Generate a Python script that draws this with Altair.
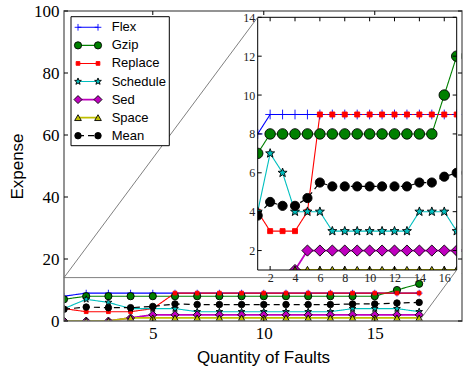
import math
import altair as alt
import pandas as pd

# ---------------- data ----------------
faults = list(range(1, 18))
names = ["Flex", "Gzip", "Replace", "Schedule", "Sed", "Space", "Mean"]
flex = [8, 9, 9, 9, 9, 9, 9, 9, 9, 9, 9, 9, 9, 9, 9, 9, 9]
gzip = [7, 8, 8, 8, 8, 8, 8, 8, 8, 8, 8, 8, 8, 8, 8, 10, 12]
replace = [4, 3, 3, 3, 4, 9, 9, 9, 9, 9, 9, 9, 9, 9, 9, 9, 9]
schedule = [4, 7, 6, 4, 4, 4, 3, 3, 3, 3, 3, 3, 3, 4, 4, 4, 3]
sed = [0, 0, 0, 1, 2, 2, 2, 2, 2, 2, 2, 2, 2, 2, 2, 2, 2]
space = [0, 0, 0, 1, 1, 1, 1, 1, 1, 1, 1, 1, 1, 1, 1, 1, 1]
mean = [3.8, 4.5, 4.3, 4.3, 4.7, 5.5, 5.3, 5.3, 5.3, 5.3, 5.3, 5.3, 5.3, 5.5, 5.5, 5.8, 6.0]
series_values = [flex, gzip, replace, schedule, sed, space, mean]

main_x_ticks = [5, 10, 15]
main_y_ticks = [0, 20, 40, 60, 80, 100]
inset_x_ticks = [2, 4, 6, 8, 10, 12, 14, 16]
inset_y_ticks = [2, 4, 6, 8, 10, 12, 14]

# ---------------- styles ----------------
SERIF = "Liberation Serif"
SANS = "Liberation Sans"
line_colors = ["#0000ff", "#008000", "#ff0000", "#00bfbf", "#bf00bf", "#bfbf00", "#000000"]
fill_colors = ["#0000ff", "#008000", "#ff0000", "#00bfbf", "#bf00bf", "#bfbf00", "#000000"]
edge_colors = ["#0000ff", "#000000", "#ff0000", "#000000", "#000000", "#000000", "#000000"]
line_widths = [1.1, 1.1, 1.1, 1.1, 1.8, 1.8, 1.2]
dashes = [[1, 0]] * 6 + [[6, 4]]
PLUS = "M-1,0L1,0M0,-1L0,1"
_star = []
for k in range(10):
    a = -math.pi / 2 + k * math.pi / 5
    r = 1.0 if k % 2 == 0 else 0.42
    _star.append(f"{r * math.cos(a):.3f},{r * math.sin(a):.3f}")
STAR = "M" + "L".join(_star) + "Z"
shapes = [PLUS, "circle", "square", STAR, "diamond", "triangle-up", "circle"]
main_sizes = [45, 52, 14, 50, 64, 45, 42]
inset_sizes = [95, 110, 25, 90, 125, 70, 85]

# ---------------- layout ----------------
W, H = 398, 310
X_MAIN = [1, 18.93]
Y_MAIN = [0, 100]
X_IN = [1, 17]
Y_IN = [1, 14]
IN_L, IN_R, IN_T, IN_B = 193.7, 392.7, 6.3, 259.0
IN_BG_BOTTOM = 268.0
ZOOM_X = [1, 17]
ZOOM_TOP = 14
TICK = 4

rows = [
    {"series": n, "faults": f, "expense": v}
    for n, vals in zip(names, series_values)
    for f, v in zip(faults, vals)
]
df = pd.DataFrame(rows)
df_in = df[(df.expense >= Y_IN[0]) & (df.expense <= Y_IN[1])]
one = pd.DataFrame({"k": [0]})


def sc(rng):
    return alt.Scale(type="ordinal", domain=names, range=rng)


def px_to_mx(px):
    return X_MAIN[0] + px / W * (X_MAIN[1] - X_MAIN[0])


def py_to_my(py):
    return Y_MAIN[1] - py / H * (Y_MAIN[1] - Y_MAIN[0])


mx = alt.Scale(domain=X_MAIN, nice=False, zero=False)
my = alt.Scale(domain=Y_MAIN, nice=False, zero=False)
ix = alt.Scale(domain=X_IN, range=[IN_L, IN_R], nice=False, zero=False)
iy = alt.Scale(domain=Y_IN, range=[IN_B, IN_T], nice=False, zero=False)

ax_main_x = alt.Axis(values=main_x_ticks, ticks=False, domain=False, grid=False,
                     labelFont=SERIF, labelFontSize=17, labelColor="black", labelPadding=4,
                     title="Quantity of Faults", titleFont=SANS, titleFontSize=17,
                     titleFontWeight="normal", titleColor="black", titlePadding=8)
ax_main_y = alt.Axis(values=main_y_ticks, ticks=False, domain=False, grid=False,
                     labelFont=SERIF, labelFontSize=17, labelColor="black", labelPadding=5,
                     title="Expense", titleFont=SANS, titleFontSize=17,
                     titleFontWeight="normal", titleColor="black", titlePadding=7)
ax_in_x = alt.Axis(orient="bottom", offset=-(H - IN_B), values=inset_x_ticks, ticks=False,
                   domain=False, grid=False, labelFont=SERIF, labelFontSize=12,
                   labelColor="#222222", labelPadding=2, title=None, zindex=1)
ax_in_y = alt.Axis(orient="left", offset=-IN_L, values=inset_y_ticks, ticks=False,
                   domain=False, grid=False, labelFont=SERIF, labelFontSize=12,
                   labelColor="#222222", labelPadding=3, title=None, zindex=1)


def series_layers(data, xs, ys, axx, axy, sizes):
    base = alt.Chart(data)
    lines = base.mark_line(clip=True).encode(
        x=alt.X("faults:Q", scale=xs, axis=axx),
        y=alt.Y("expense:Q", scale=ys, axis=axy),
        color=alt.Color("series:N", scale=sc(line_colors), legend=None),
        strokeDash=alt.StrokeDash("series:N", scale=sc(dashes), legend=None),
        strokeWidth=alt.StrokeWidth("series:N", scale=sc(line_widths), legend=None),
    )
    pts = base.mark_point(filled=True, clip=True, opacity=1, strokeWidth=0.9).encode(
        x=alt.X("faults:Q", scale=xs, axis=axx),
        y=alt.Y("expense:Q", scale=ys, axis=axy),
        fill=alt.Fill("series:N", scale=sc(fill_colors), legend=None),
        stroke=alt.Stroke("series:N", scale=sc(edge_colors), legend=None),
        shape=alt.Shape("series:N", scale=sc(shapes), legend=None),
        size=alt.Size("series:N", scale=sc(sizes), legend=None),
    )
    return lines, pts


# main plot data
m_lines, m_pts = series_layers(df, mx, my, ax_main_x, ax_main_y, main_sizes)
main = alt.layer(m_lines, m_pts)

# inset: background + data
inset_bg = alt.Chart(one).mark_rect(color="white").encode(
    x=alt.value(IN_L), x2=alt.value(IN_R), y=alt.value(IN_T), y2=alt.value(IN_BG_BOTTOM))
i_lines, i_pts = series_layers(df_in, ix, iy, ax_in_x, ax_in_y, inset_sizes)
inset = alt.layer(inset_bg, i_lines, i_pts)

# white strips that clip inset markers at its frame
cover_b = alt.Chart(one).mark_rect(color="white").encode(
    x=alt.value(IN_L - 6), x2=alt.value(W - 0.8), y=alt.value(IN_B), y2=alt.value(IN_BG_BOTTOM))
cover_l = alt.Chart(one).mark_rect(color="white").encode(
    x=alt.value(IN_L - 6), x2=alt.value(IN_L), y=alt.value(IN_T), y2=alt.value(IN_B))
cover_r = alt.Chart(one).mark_rect(color="white").encode(
    x=alt.value(IN_R), x2=alt.value(W - 0.8), y=alt.value(IN_T), y2=alt.value(IN_B))
covers = alt.layer(cover_b, cover_l, cover_r)

# inset frame and inward ticks
in_frame = alt.Chart(one).mark_rect(fillOpacity=0, stroke="black", strokeWidth=1).encode(
    x=alt.value(IN_L), x2=alt.value(IN_R), y=alt.value(IN_T), y2=alt.value(IN_B))
ixt = pd.DataFrame({"t": inset_x_ticks})
iyt = pd.DataFrame({"t": inset_y_ticks})
in_tb = alt.Chart(ixt).mark_rule(color="black", strokeWidth=1).encode(
    x=alt.X("t:Q", scale=ix, axis=None), y=alt.value(IN_B), y2=alt.value(IN_B - TICK))
in_tt = alt.Chart(ixt).mark_rule(color="black", strokeWidth=1).encode(
    x=alt.X("t:Q", scale=ix, axis=None), y=alt.value(IN_T), y2=alt.value(IN_T + TICK))
in_tl = alt.Chart(iyt).mark_rule(color="black", strokeWidth=1).encode(
    y=alt.Y("t:Q", scale=iy, axis=None), x=alt.value(IN_L), x2=alt.value(IN_L + TICK))
in_tr = alt.Chart(iyt).mark_rule(color="black", strokeWidth=1).encode(
    y=alt.Y("t:Q", scale=iy, axis=None), x=alt.value(IN_R), x2=alt.value(IN_R - TICK))
inset_frame = alt.layer(in_frame, in_tb, in_tt, in_tl, in_tr)

# main frame, ticks, zoom indicator and connectors
m_frame = alt.Chart(one).mark_rect(fillOpacity=0, stroke="#707070", strokeWidth=1.5).encode(
    x=alt.value(0), x2=alt.value(W), y=alt.value(0), y2=alt.value(H))
mxt = pd.DataFrame({"t": main_x_ticks})
myt = pd.DataFrame({"t": main_y_ticks})
m_tb = alt.Chart(mxt).mark_rule(color="black", strokeWidth=1).encode(
    x=alt.X("t:Q", scale=mx, axis=None), y=alt.value(H), y2=alt.value(H - TICK))
m_tt = alt.Chart(mxt).mark_rule(color="black", strokeWidth=1).encode(
    x=alt.X("t:Q", scale=mx, axis=None), y=alt.value(0), y2=alt.value(TICK))
m_tl = alt.Chart(myt).mark_rule(color="black", strokeWidth=1).encode(
    y=alt.Y("t:Q", scale=my, axis=None), x=alt.value(0), x2=alt.value(TICK))
m_tr = alt.Chart(myt).mark_rule(color="black", strokeWidth=1).encode(
    y=alt.Y("t:Q", scale=my, axis=None), x=alt.value(W), x2=alt.value(W - TICK))
zoom_df = pd.DataFrame({"x": [ZOOM_X[0]], "x2": [ZOOM_X[1]], "y": [ZOOM_TOP]})
zoom_line = alt.Chart(zoom_df).mark_rule(color="#808080", strokeWidth=1).encode(
    x=alt.X("x:Q", scale=mx, axis=None), x2="x2:Q", y=alt.Y("y:Q", scale=my, axis=None))
conn_df = pd.DataFrame({
    "x": [ZOOM_X[0], ZOOM_X[1]],
    "y": [ZOOM_TOP, 0],
    "x2": [px_to_mx(IN_L), px_to_mx(IN_R)],
    "y2": [py_to_my(IN_T), py_to_my(IN_B)],
})
connectors = alt.Chart(conn_df).mark_rule(color="#808080", strokeWidth=1).encode(
    x=alt.X("x:Q", scale=mx, axis=None), y=alt.Y("y:Q", scale=my, axis=None),
    x2="x2:Q", y2="y2:Q")
main_frame = alt.layer(zoom_line, connectors, m_frame, m_tb, m_tt, m_tl, m_tr)

# legend (hand built)
LEG_L, LEG_R, LEG_T, LEG_B = 7, 105.3, 5.7, 134.7
LEG_ROWS = [16.3, 124.7]
LEG_X1, LEG_X2, LEG_TX = 14, 34, 47.7
leg_df = pd.DataFrame({"series": names})
ly = alt.Scale(type="point", domain=names, range=LEG_ROWS, padding=0)
leg_box = alt.Chart(one).mark_rect(fill="white", stroke="black", strokeWidth=1).encode(
    x=alt.value(LEG_L), x2=alt.value(LEG_R), y=alt.value(LEG_T), y2=alt.value(LEG_B))
leg_base = alt.Chart(leg_df)
leg_lines = leg_base.mark_rule().encode(
    y=alt.Y("series:N", scale=ly, axis=None),
    x=alt.value(LEG_X1), x2=alt.value(LEG_X2),
    color=alt.Color("series:N", scale=sc(line_colors), legend=None),
    strokeDash=alt.StrokeDash("series:N", scale=sc(dashes), legend=None),
    strokeWidth=alt.StrokeWidth("series:N", scale=sc(line_widths), legend=None),
)


def leg_pts(xpos):
    return leg_base.mark_point(filled=True, opacity=1, strokeWidth=0.9).encode(
        y=alt.Y("series:N", scale=ly, axis=None),
        x=alt.value(xpos),
        fill=alt.Fill("series:N", scale=sc(fill_colors), legend=None),
        stroke=alt.Stroke("series:N", scale=sc(edge_colors), legend=None),
        shape=alt.Shape("series:N", scale=sc(shapes), legend=None),
        size=alt.Size("series:N", scale=sc(main_sizes), legend=None),
    )


leg_text = leg_base.mark_text(align="left", baseline="middle", font=SANS, fontSize=13,
                              color="black").encode(
    y=alt.Y("series:N", scale=ly, axis=None), x=alt.value(LEG_TX), text="series:N")
legend = alt.layer(leg_box, leg_lines, leg_pts(LEG_X1), leg_pts(LEG_X2), leg_text)

chart = alt.layer(main, inset, covers, inset_frame, main_frame, legend).resolve_scale(
    x="independent", y="independent", color="independent", fill="independent",
    stroke="independent", shape="independent", size="independent",
    strokeDash="independent", strokeWidth="independent",
).properties(
    width=W, height=H,
    padding={"left": 64, "top": 11, "right": 2, "bottom": 50},
    autosize=alt.AutoSizeParams(type="none"),
    background="white",
).configure_view(stroke=None)

chart.save("out.html", embed_options={"renderer": "svg", "actions": False})
